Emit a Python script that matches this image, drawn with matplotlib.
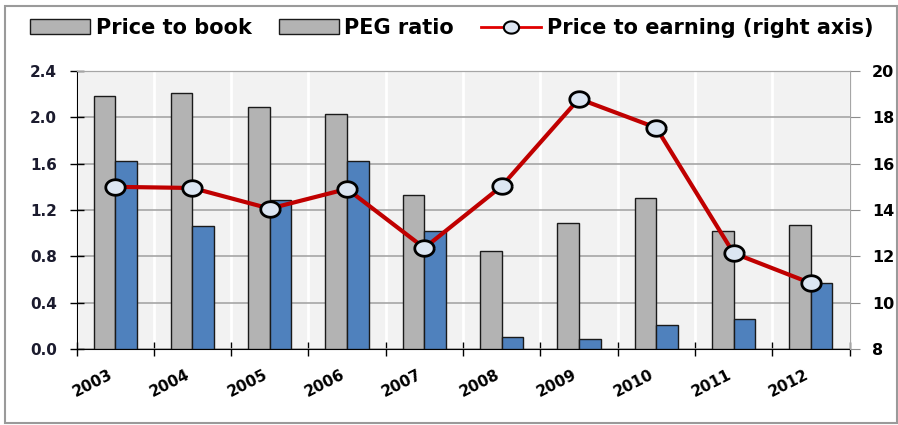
import numpy as np
import matplotlib
matplotlib.use("Agg")
import matplotlib.pyplot as plt
from matplotlib.patches import Rectangle, Patch

# values
years = ["2003", "2004", "2005", "2006", "2007", "2008", "2009", "2010", "2011", "2012"]
price_to_book = [2.18, 2.21, 2.09, 2.03, 1.33, 0.85, 1.09, 1.30, 1.02, 1.07]
peg_ratio = [1.62, 1.06, 1.29, 1.62, 1.02, 0.10, 0.09, 0.21, 0.26, 0.57]
price_to_earning = [15.0, 14.95, 14.06, 14.91, 12.36, 15.03, 18.8, 17.55, 12.14, 10.84]

left_ticks = [0.0, 0.4, 0.8, 1.2, 1.6, 2.0, 2.4]
right_ticks = [8, 10, 12, 14, 16, 18, 20]

plt.rcParams['font.family'] = ['DejaVu Sans']
plt.rcParams['font.weight'] = 'bold'

fig = plt.figure(figsize=(8.98, 4.25), dpi=100)
ax = fig.add_axes([76.5 / 898, 1 - 349 / 425, (849.5 - 76.5) / 898, (349 - 71) / 425])

# outer frame of the picture
fig.patches.append(Rectangle((5 / 898, 2 / 425), 892 / 898, 417 / 425, transform=fig.transFigure,
                             fill=False, edgecolor='#9a9a9a', lw=1.5))

x = np.arange(len(years))
w = 0.28
ax.bar(x - w / 2, price_to_book, w, color='#b3b3b3', edgecolor='#1a1a1a', lw=1, zorder=3)
ax.bar(x + w / 2, peg_ratio, w, color='#4f81bd', edgecolor='#1a1a1a', lw=1, zorder=3)

ax.set_facecolor('#f2f2f2')
ax.set_xlim(-0.5, len(years) - 0.5)
ax.set_ylim(0, 2.4)
ax.set_yticks(left_ticks)
ax.set_yticklabels([f"{v:.1f}" for v in left_ticks], fontsize=11, color='#1b1b2e')
ax.tick_params(axis='y', direction='inout', length=10, width=1, pad=9)

ax.set_xticks(np.arange(-0.5, len(years), 1))
ax.set_xticklabels([])
ax.tick_params(axis='x', which='major', direction='inout', length=10, width=1)
ax.set_xticks(x, minor=True)
ax.set_xticklabels(years, minor=True, rotation=27, ha='right', va='top', fontsize=11)
ax.tick_params(axis='x', which='minor', length=0, pad=13)

ax.set_axisbelow(True)
ax.grid(axis='y', color='#a6a6a6', lw=1.2)
ax.grid(axis='x', which='major', color='white', lw=2)

for s in ['top', 'right']:
    ax.spines[s].set_color('#a6a6a6')
ax.spines['left'].set_color('black')
ax.spines['bottom'].set_color('black')

ax2 = ax.twinx()
t = np.linspace(0, 2 * np.pi, 40)
ellipse = list(zip(1.25 * np.cos(t), np.sin(t)))
ln, = ax2.plot(x, price_to_earning, color='#c00000', lw=3, marker=ellipse, markersize=14,
               markerfacecolor='#dce6f2', markeredgecolor='black', markeredgewidth=2, zorder=5)
ax2.set_ylim(8, 20)
ax2.set_yticks(right_ticks)
ax2.set_yticklabels([str(v) for v in right_ticks], fontsize=11.5)
ax2.tick_params(axis='y', direction='out', length=7, color='#8c8c8c', pad=9)
for s in ['top', 'right']:
    ax2.spines[s].set_color('#a6a6a6')
ax2.spines['left'].set_visible(False)
ax2.spines['bottom'].set_visible(False)

# the original legend shows both bar series in gray
gray_patch = Patch(facecolor='#b3b3b3', edgecolor='#1a1a1a', lw=1)
leg_line = plt.Line2D([], [], color='#e00000', lw=2, marker=ellipse, markersize=11,
                      markerfacecolor='#dce6f2', markeredgecolor='black', markeredgewidth=1.5)
fig.legend([gray_patch, gray_patch, leg_line],
           ['Price to book', 'PEG ratio', 'Price to earning (right axis)'],
           loc='center left', bbox_to_anchor=(30 / 898, 1 - 28 / 425), ncol=3,
           frameon=False, fontsize=15, handlelength=2.9, handletextpad=0.25,
           columnspacing=1.3, borderpad=0, borderaxespad=0)

fig.savefig('out.png', dpi=100)
